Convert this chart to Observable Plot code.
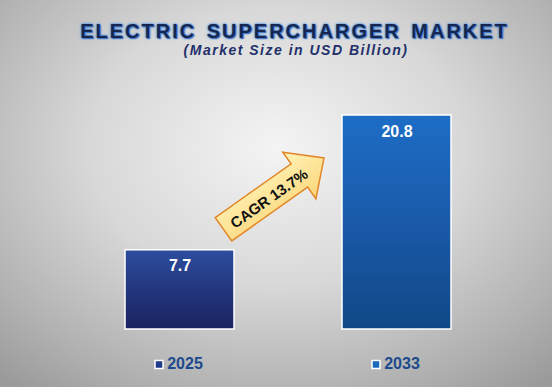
<!DOCTYPE html>
<html>
<head>
<meta charset="utf-8">
<script src="https://cdn.jsdelivr.net/npm/d3@7"></script>
<script src="https://cdn.jsdelivr.net/npm/@observablehq/plot@0.6"></script>
<style>
  html, body { margin: 0; padding: 0; }
  body {
    width: 552px; height: 387px; overflow: hidden;
    background: radial-gradient(ellipse 75% 80% at 50% 38%, #f4f4f4 0%, #d8d8d8 45%, #b2b2b2 80%, #9a9a9a 100%);
    font-family: "Liberation Sans", Arial, sans-serif;
  }
  #title {
    box-sizing: border-box; width: 552px; padding: 20px 0 0 37px; margin: 0;
    text-align: center; font-size: 20px; line-height: 22px; font-weight: bold;
    letter-spacing: 2px; word-spacing: 3px; color: #17264e;
    text-shadow: 0 0 2px #3d86e0, 0 0 3px #5aa0f0, 1px 1px 1px #2a5aa8;
  }
  #subtitle {
    box-sizing: border-box; width: 552px; padding: 0 0 0 40px; margin: 0;
    text-align: center; font-size: 14px; line-height: 16px; height: 18px; font-weight: bold;
    font-style: italic; letter-spacing: 1.5px; color: #22306a;
  }
  #chart svg { display: block; }
</style>
</head>
<body>
<div id="title">ELECTRIC SUPERCHARGER MARKET</div>
<div id="subtitle">(Market Size in USD Billion)</div>
<div id="chart"></div>
<script>
const years = ["2025", "2033"];
const values = [7.7, 20.8];
const cagr = 13.7;
const legendColors = ["#1f3a88", "#1a68bc"];

const data = years.map((year, i) => ({year, value: values[i], legend: legendColors[i]}));

function arrowMark(index, scales) {
  const x = scales.x, y = scales.y;
  const bw = x.bandwidth ? x.bandwidth() : 0;
  const x0 = x(years[0]) + bw - 10.5, y0 = y(values[0]) - 20.5;
  const x1 = x(years[1]) - 18, y1 = y(values[1]) + 43;
  const ang = Math.atan2(y1 - y0, x1 - x0) * 180 / Math.PI;
  const L = Math.hypot(x1 - x0, y1 - y0);
  const sw = 14.3, hw = 28.6, hl = 30.2;
  const g = d3.create("svg:g");
  const grad = g.append("defs").append("linearGradient")
    .attr("id", "arrowGrad").attr("x1", 0).attr("y1", 0).attr("x2", 0).attr("y2", 1);
  grad.append("stop").attr("offset", "0%").attr("stop-color", "#fff3b8");
  grad.append("stop").attr("offset", "100%").attr("stop-color", "#fbd67a");
  const a = g.append("g").attr("transform", `translate(${x0},${y0}) rotate(${ang})`);
  const pts = [[0, -sw], [L - hl, -sw], [L - hl, -hw], [L, 0], [L - hl, hw], [L - hl, sw], [0, sw]];
  a.append("polygon")
    .attr("points", pts.map(p => p.join(",")).join(" "))
    .attr("fill", "url(#arrowGrad)")
    .attr("stroke", "#e2872a")
    .attr("stroke-width", 1.5)
    .attr("stroke-linejoin", "miter");
  a.append("text")
    .attr("x", 55).attr("y", 1)
    .attr("text-anchor", "middle").attr("dominant-baseline", "central")
    .attr("font-family", "Liberation Sans, Arial, sans-serif")
    .attr("font-size", 15).attr("font-weight", "bold").attr("fill", "#111")
    .text(`CAGR ${cagr}%`);
  return g.node();
}

const plot = Plot.plot({
  width: 552,
  height: 327,
  marginTop: 55,
  marginBottom: 58,
  marginLeft: 70.6,
  marginRight: 46.4,
  style: {background: "transparent", overflow: "visible", fontFamily: "Liberation Sans, Arial, sans-serif"},
  x: {domain: years, paddingInner: 0.5, paddingOuter: 0.25, axis: null},
  y: {domain: [0, values[1]], axis: null},
  color: {type: "identity"},
  marks: [
    ...years.map(yr => Plot.barY(data.filter(d => d.year === yr), {
      x: "year", y: "value", fill: `url(#g${yr})`, stroke: "white", strokeWidth: 1.5
    })),
    Plot.text(data, {x: "year", y: "value", text: d => d.value.toFixed(1), dy: 16,
      fill: "white", fontSize: 16, fontWeight: "bold"}),
    Plot.dot(data, {x: "year", y: 0, dx: -21, dy: 35, symbol: "square", r: 4.5,
      fill: "legend", stroke: "white", strokeWidth: 1.5}),
    Plot.text(data, {x: "year", y: 0, text: "year", dx: 5, dy: 34,
      fill: "#1c4a8c", fontSize: 16, fontWeight: "bold"}),
    arrowMark
  ]
});

const defs = d3.select(plot).insert("defs", ":first-child");
const gradStops = {
  "2025": [["0%", "#2d4d9e"], ["55%", "#22357a"], ["100%", "#1c2260"]],
  "2033": [["0%", "#1d6dc6"], ["55%", "#1a58a6"], ["100%", "#104886"]]
};
for (const yr of years) {
  const lg = defs.append("linearGradient").attr("id", `g${yr}`)
    .attr("x1", 0).attr("y1", 0).attr("x2", 0).attr("y2", 1);
  for (const [o, c] of gradStops[yr]) lg.append("stop").attr("offset", o).attr("stop-color", c);
}

document.getElementById("chart").appendChild(plot);
</script>
</body>
</html>
